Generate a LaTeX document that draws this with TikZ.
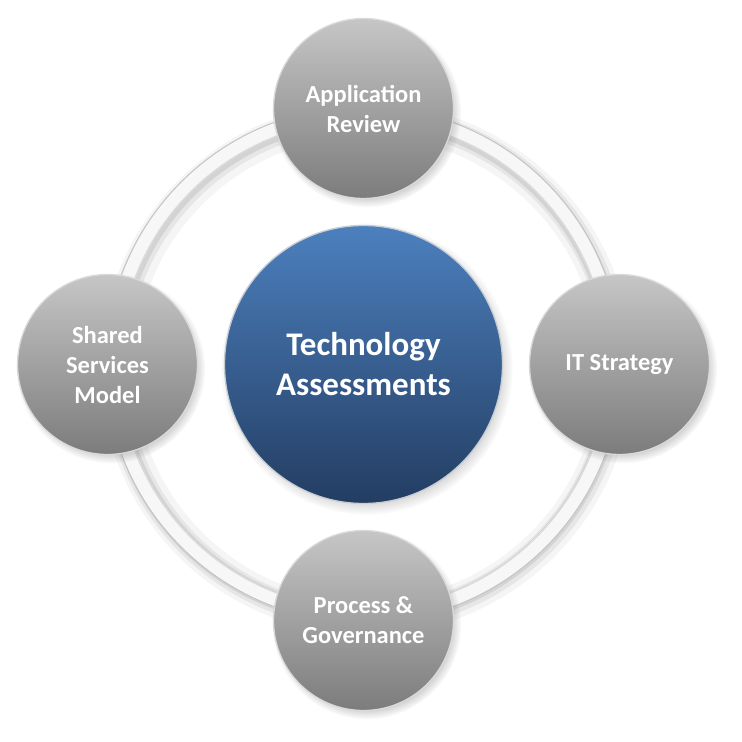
\documentclass[tikz,border=0pt]{standalone}
\usepackage{fontspec}
\setmainfont{Carlito}
\usetikzlibrary{shadows}

\definecolor{sattop}{HTML}{C6C6C6}
\definecolor{satbot}{HTML}{7C7C7C}
\definecolor{satrim}{HTML}{DADADA}
\definecolor{hubtop}{HTML}{4C80BE}
\definecolor{hubbot}{HTML}{233D62}
\definecolor{hubrim}{HTML}{C8CDD4}
\definecolor{ringfill}{HTML}{F7F7F7}
\definecolor{ringedge}{HTML}{C4C4C4}

\tikzset{
  bubble/.style={circle, inner sep=0pt, align=center, text=white, line width=1.3pt,
    circular drop shadow={shadow xshift=3pt, shadow yshift=-4pt, shadow scale=1.05, opacity=0.5}},
  satellite/.style={bubble, minimum size=180pt, top color=sattop, bottom color=satbot, draw=satrim,
    font=\bfseries\fontsize{24.5}{30}\selectfont},
  hub/.style={bubble, minimum size=278pt, top color=hubtop, bottom color=hubbot, draw=hubrim,
    font=\bfseries\fontsize{33}{40}\selectfont}
}

\begin{document}
\begin{tikzpicture}[x=1pt,y=1pt]
  \useasboundingbox[fill=white] (0,0) rectangle (742,742);
  \coordinate (c) at (363.5,377.5);

  % ring with soft shadow
  \draw[black, opacity=0.04, line width=34pt] ([shift={(3,-4)}]c) circle (249);
  \draw[black, opacity=0.06, line width=24pt] ([shift={(2,-3)}]c) circle (250);
  \draw[black, opacity=0.08, line width=18pt] ([shift={(1,-2)}]c) circle (250);
  \draw[ringfill, line width=14pt] (c) circle (251);
  \draw[ringedge, line width=1pt] (c) circle (258);
  \draw[ringedge!70, line width=0.8pt] (c) circle (244.5);

  % hub and satellites
  \node[hub] (hub) at (c) {Technology\\Assessments};
  \node[satellite] (app) at (363.5,633.5) {Application\\Review};
  \node[satellite] (its) at (619.5,377.5) {IT Strategy};
  \node[satellite] (gov) at (363.5,121.5) {Process \&\\Governance};
  \node[satellite] (ssm) at (107.5,377.5) {Shared\\Services\\Model};
\end{tikzpicture}
\end{document}
